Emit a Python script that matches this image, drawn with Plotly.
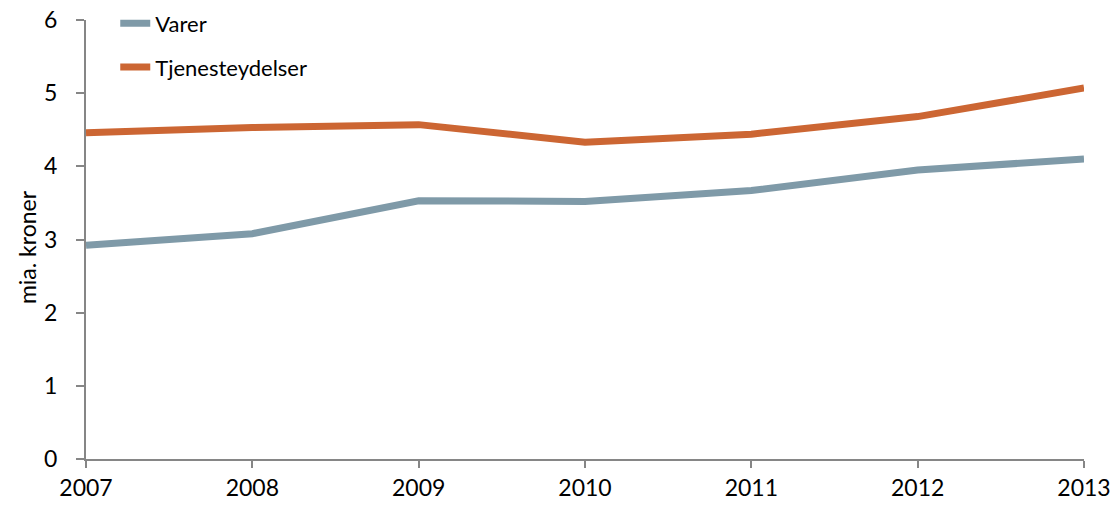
import plotly.graph_objects as go

# Annual values, billion NOK
years = [2007, 2008, 2009, 2010, 2011, 2012, 2013]
varer = [2.92, 3.08, 3.53, 3.52, 3.67, 3.95, 4.10]
tjenester = [4.46, 4.53, 4.57, 4.33, 4.44, 4.68, 5.07]
y_ticks = [0, 1, 2, 3, 4, 5, 6]
y_title = "mia. kroner"

font_family = "Lato, 'Open Sans', sans-serif"

fig = go.Figure()
fig.add_trace(go.Scatter(
    x=years, y=varer, name="Varer", mode="lines",
    line=dict(color="#7F9AA8", width=7), legendgroup="a",
))
fig.add_trace(go.Scatter(
    x=years, y=tjenester, name="Tjenesteydelser", mode="lines",
    line=dict(color="#CC6633", width=7), legendgroup="b",
))

fig.update_layout(
    width=1119, height=510,
    margin=dict(l=86, r=35, t=20, b=51, autoexpand=False),
    paper_bgcolor="white", plot_bgcolor="white",
    font=dict(family=font_family, size=22, color="black"),
    showlegend=True,
    legend=dict(
        xref="container", yref="container",
        x=0.103, y=0.995, xanchor="left", yanchor="top",
        bgcolor="rgba(0,0,0,0)", font=dict(size=22),
        traceorder="grouped", tracegroupgap=12,
        itemwidth=30,
    ),
)
fig.update_xaxes(
    range=[2007, 2013], tickvals=years, ticktext=[str(y) for y in years],
    showgrid=False, zeroline=False,
    showline=True, linecolor="#868686", linewidth=2,
    ticks="outside", ticklen=7, tickcolor="#868686", tickwidth=2,
    tickfont=dict(size=23), fixedrange=True,
)
fig.update_yaxes(
    range=[0, 6], tickvals=y_ticks,
    showgrid=False, zeroline=False,
    showline=True, linecolor="#868686", linewidth=2,
    ticks="outside", ticklen=8, tickcolor="#868686", tickwidth=2,
    tickfont=dict(size=23), ticklabelstandoff=14,
)

# Vertical axis title placed to the left of the tick labels
fig.add_annotation(
    text=y_title, textangle=-90, showarrow=False,
    xref="paper", yref="paper", x=-0.059, y=0.483,
    xanchor="center", yanchor="middle",
    font=dict(size=23, family=font_family, color="black"),
)

fig.write_html("out.html")
